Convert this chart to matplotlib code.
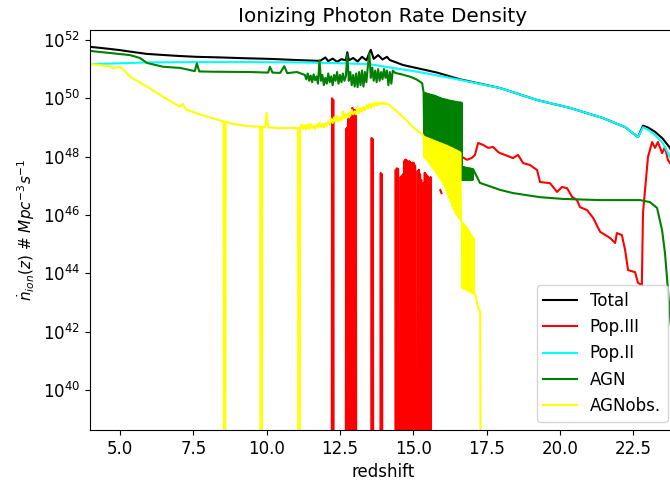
import numpy as np
import matplotlib
matplotlib.use('Agg')
import matplotlib.pyplot as plt
from matplotlib.ticker import NullLocator

nan = np.nan

# values are log10 of the photon rate density
# (30 = far below the axis floor, i.e. the rate drops to ~nothing)

tot_z = [4.0, 4.3, 4.66, 5.0, 5.34, 5.92, 6.53, 7.0, 7.62, 8.41, 9.33, 10.11,
         11.03, 11.82, 12.0, 12.1, 12.25, 12.4, 12.55, 12.7, 12.75, 12.8,
         12.95, 13.1, 13.25, 13.4, 13.5, 13.55, 13.65, 13.8, 13.95, 14.1,
         14.2, 14.65, 15.23, 15.81, 16.59, 17.96, 19.22, 20.34, 21.47, 22.22,
         22.66, 22.83, 23.0, 23.24, 23.5, 23.75, 23.95]
tot_L = [51.76, 51.73, 51.69, 51.65, 51.60, 51.52, 51.48, 51.45, 51.42, 51.40,
         51.37, 51.35, 51.31, 51.28, 51.40, 51.27, 51.36, 51.25, 51.34, 51.30,
         51.58, 51.30, 51.38, 51.26, 51.42, 51.30, 51.55, 51.66, 51.35, 51.48,
         51.33, 51.42, 51.31, 51.14, 51.01, 50.88, 50.65, 50.35, 49.94, 49.67,
         49.32, 49.01, 48.67, 49.06, 49.0, 48.85, 48.62, 48.3, 47.9]

pop2_z = [4.0, 5.0, 6.0, 7.5, 9.4, 11.0, 12.2, 13.5, 14.3, 15.2, 16.6, 17.96,
          19.22, 20.34, 21.47, 22.22, 22.66, 22.83, 23.0, 23.24, 23.5, 23.75,
          23.95]
pop2_L = [51.17, 51.20, 51.23, 51.24, 51.24, 51.23, 51.21, 51.17, 51.04, 50.90,
          50.63, 50.35, 49.94, 49.67, 49.32, 49.01, 48.67, 49.01, 48.92, 48.74,
          48.47, 48.0, 47.5]

pop3_z = [12.21, 12.23, 12.25, 12.27, 12.29,
          12.69, 12.71, 12.73, 12.75, 12.77, 12.79, 12.81, 12.86, 12.88, 12.90,
          12.92, 12.94, 12.96, 12.98, 13.00, 13.02, 13.04, 13.06,
          13.56, 13.58, 13.60, 13.62, 13.64,
          13.87, 13.89, 13.91, 13.93, 13.95,
          14.38, 14.40, 14.42, 14.44, 14.46, 14.48, 14.50, 14.55, 14.57, 14.59,
          14.61, 14.63, 14.65, 14.67, 14.69, 14.71, 14.73, 14.75, 14.77, 14.79,
          14.84, 14.86, 14.88, 14.90, 14.92, 14.94, 14.96, 14.98, 15.00, 15.02,
          15.04, 15.06, 15.08, 15.13, 15.15, 15.17, 15.19, 15.21, 15.23, 15.25,
          15.27, 15.29, 15.31, 15.33, 15.35, 15.37, 15.39, 15.41, 15.43, 15.45,
          15.47, 15.49, 15.51, 15.53, 15.55, 15.57, 15.59, 15.61,
          15.7,
          15.92, 15.96,
          16.2,
          16.66, 16.83, 17.0, 17.1, 17.21, 17.38, 17.55, 17.72, 17.89, 17.96,
          18.4, 18.57, 18.74, 18.98, 19.22, 19.32, 19.66, 19.9, 20.07, 20.24,
          20.41, 20.58, 20.68, 20.92, 21.13, 21.37, 21.71, 21.88, 21.94, 22.11,
          22.22, 22.32, 22.56, 22.66, 22.79, 22.83, 22.93, 23.0, 23.14, 23.24,
          23.34, 23.48, 23.58, 23.68, 23.95]
pop3_L = [30, 50.0, 30, 49.95, 30,
          30, 48.95, 30, 49.0, 30, 49.3, 30, 30, 49.5, 30,
          49.67, 30, 49.6, 30, 49.6, 30, 49.5, 30,
          30, 48.64, 30, 48.6, 30,
          30, 47.44, 30, 47.4, 30,
          30, 47.55, 30, 47.6, 30, 47.58, 30, 30, 47.3, 30,
          47.35, 30, 47.4, 30, 47.85, 30, 47.9, 30, 47.88, 30,
          30, 47.85, 30, 47.8, 30, 47.75, 30, 47.8, 30, 47.78,
          30, 47.7, 30, 30, 47.5, 30, 47.55, 30, 47.4, 30,
          47.2, 30, 46.9, 30, 47.1, 30, 47.45, 30, 47.4, 30,
          47.35, 30, 47.3, 30, 47.25, 30, 47.3, 30,
          nan,
          46.85, 46.75,
          nan,
          47.99, 47.89, 47.96, 48.06, 48.47, 48.4, 48.3, 48.33, 48.16, 48.12,
          47.95, 48.06, 47.78, 47.71, 47.54, 47.13, 47.09, 46.79, 46.96, 46.92,
          46.62, 46.51, 46.27, 46.17, 45.9, 45.42, 45.21, 45.04, 45.38, 45.31,
          44.8, 44.11, 44.04, 43.67, 43.6, 46.07, 47.2, 47.99, 48.5, 48.3,
          48.5, 48.12, 48.33, 47.88, 47.5]

agn_z = [4.0, 4.66, 5.34, 5.68, 5.92, 6.47, 7.05, 7.55, 7.62, 7.7, 8.17, 9.43,
         10.05, 10.11, 10.2, 10.46, 10.6, 10.7, 11.03,
         11.30, 11.35, 11.40, 11.45, 11.50, 11.55, 11.60, 11.65, 11.70, 11.75,
         11.80, 11.85, 11.90, 11.95, 12.00, 12.05, 12.10, 12.15, 12.20, 12.25,
         12.30, 12.35, 12.40, 12.45, 12.50, 12.55, 12.60, 12.65, 12.70, 12.75,
         12.80, 12.85, 12.90, 12.95, 13.00, 13.05, 13.10, 13.15, 13.20, 13.25,
         13.30, 13.35, 13.40, 13.45, 13.50, 13.55, 13.60, 13.65, 13.70, 13.75,
         13.80, 13.85, 13.90, 13.95, 14.00, 14.05, 14.10, 14.15, 14.20, 14.25,
         14.30, 14.38, 14.6, 14.89, 15.1, 15.3,
         15.350, 15.375, 15.400, 15.425, 15.450, 15.475, 15.500, 15.525,
         15.550, 15.575, 15.600, 15.625, 15.650, 15.675, 15.700, 15.725,
         15.750, 15.775, 15.800, 15.825, 15.850, 15.875, 15.900, 15.925,
         15.950, 15.975, 16.000, 16.025, 16.050, 16.075, 16.100, 16.125,
         16.150, 16.175, 16.200, 16.225, 16.250, 16.275, 16.300, 16.325,
         16.350, 16.375, 16.400, 16.425, 16.450, 16.475, 16.500, 16.525,
         16.550, 16.575, 16.600, 16.625, 16.645,
         16.66, 16.68, 16.70, 16.72, 16.74, 16.76, 16.78, 16.80, 16.82, 16.84,
         16.86, 16.88, 16.90, 16.92, 16.94, 16.96, 16.98, 17.00, 17.02, 17.04,
         17.27, 17.96, 18.4, 19.32, 20.1, 21.37, 22.73, 23.07, 23.31, 23.48,
         23.58, 23.68, 23.82, 23.95]
agn_L = [51.62, 51.55, 51.48, 51.38, 51.21, 51.08, 51.04, 50.93, 51.2, 50.92,
         50.91, 50.90, 50.88, 51.08, 50.88, 50.87, 51.1, 50.86, 50.90,
         50.80, 50.65, 50.85, 50.60, 50.78, 50.55, 50.82, 50.62, 50.75, 50.50,
         51.30, 50.60, 50.80, 50.45, 50.70, 50.50, 50.85, 50.55, 50.75, 50.45,
         50.80, 50.60, 50.90, 50.50, 50.80, 50.55, 50.85, 50.60, 50.75, 51.50,
         50.60, 50.90, 50.45, 50.80, 50.40, 50.85, 50.38, 50.90, 50.45, 50.95,
         50.40, 50.90, 50.55, 51.10, 51.55, 50.70, 51.05, 50.60, 50.95, 50.55,
         51.00, 50.60, 50.90, 50.65, 51.00, 50.70, 50.95, 50.45, 50.90, 50.50,
         50.95, 50.87, 50.82, 50.74, 50.65, 50.52,
         50.20, 48.40, 50.18, 48.38, 50.17, 48.36, 50.15, 48.34,
         50.14, 48.32, 50.12, 48.30, 50.11, 48.28, 50.10, 48.26,
         50.08, 48.24, 50.06, 48.22, 50.04, 48.20, 50.02, 48.18,
         50.00, 48.16, 49.98, 48.14, 49.97, 48.12, 49.96, 48.10,
         49.95, 48.08, 49.93, 48.06, 49.92, 48.04, 49.91, 48.02,
         49.90, 48.00, 49.89, 47.99, 49.88, 47.98, 49.87, 47.97,
         49.86, 47.96, 49.86, 47.95, 49.85,
         47.2, 47.64, 47.2, 47.64, 47.2, 47.63, 47.2, 47.62, 47.2, 47.61,
         47.2, 47.6, 47.2, 47.6, 47.2, 47.59, 47.2, 47.58, 47.2, 47.57,
         47.1, 46.86, 46.75, 46.61, 46.55, 46.51, 46.51, 46.44, 46.24, 45.48,
         44.69, 43.43, 41.7, 39.0]

agnobs_z = [4.0, 4.3, 4.66, 4.76, 5.0, 5.15, 5.34, 5.92, 6.47, 7.05, 7.15, 7.25,
            7.62, 8.17, 8.53, 8.55, 8.58, 8.60, 8.75, 9.33, 9.78, 9.80, 9.83,
            9.85, 9.95, 10.0, 10.05, 10.46, 11.07, 11.09, 11.12, 11.14,
            11.20, 11.25, 11.30, 11.35, 11.40, 11.45, 11.50, 11.55, 11.60,
            11.65, 11.70, 11.75, 11.80, 11.85, 11.90, 11.95, 12.00, 12.05,
            12.10, 12.15, 12.20, 12.25, 12.30, 12.35, 12.40, 12.45, 12.50,
            12.55, 12.60, 12.65, 12.70, 12.75, 12.80, 12.85, 12.90, 12.95,
            13.00, 13.05, 13.10, 13.15, 13.20, 13.25, 13.30, 13.35, 13.40,
            13.45, 13.50, 13.55, 13.60, 13.65, 13.70, 13.75, 13.80, 13.85,
            13.90, 13.95, 14.00, 14.05, 14.10, 14.20, 14.38, 14.65, 14.99, 15.33,
            15.350, 15.375, 15.400, 15.425, 15.450, 15.475, 15.500, 15.525,
            15.550, 15.575, 15.600, 15.625, 15.650, 15.675, 15.700, 15.725,
            15.750, 15.775, 15.800, 15.825, 15.850, 15.875, 15.900, 15.925,
            15.950, 15.975, 16.000, 16.025, 16.050, 16.075, 16.100, 16.125,
            16.150, 16.175, 16.200, 16.225, 16.250, 16.275, 16.300, 16.325,
            16.350, 16.375, 16.400, 16.425, 16.450, 16.475, 16.500, 16.525,
            16.550, 16.575, 16.600, 16.625,
            16.65, 16.67, 16.69, 16.71, 16.73, 16.75, 16.77, 16.79, 16.81,
            16.83, 16.85, 16.87, 16.89, 16.91, 16.93, 16.95, 16.97, 16.99,
            17.01, 17.03, 17.05, 17.07, 17.1, 17.15, 17.2, 17.28, 17.31]
agnobs_L = [51.17, 51.14, 51.09, 51.03, 51.08, 50.95, 50.74, 50.40, 50.05,
            49.71, 49.8, 49.62, 49.48, 49.31, 49.21, 30, 30, 49.2, 49.14,
            49.05, 49.02, 30, 30, 49.03, 49.02, 49.5, 49.0, 48.98, 48.98, 30,
            30, 49.0,
            49.10, 48.95, 49.08, 48.93, 49.10, 48.95, 49.12, 48.97, 49.05,
            48.95, 49.10, 49.00, 49.15, 49.02, 49.12, 49.00, 49.15, 49.05,
            49.20, 49.10, 49.30, 49.15, 49.35, 49.20, 49.40, 49.20, 49.35,
            49.25, 49.55, 49.30, 49.45, 49.35, 49.50, 49.40, 49.60, 49.45,
            49.55, 49.45, 49.70, 49.50, 49.65, 49.55, 49.70, 49.60, 49.75,
            49.65, 49.80, 49.68, 49.82, 49.72, 49.85, 49.75, 49.85, 49.78,
            49.85, 49.80, 49.85, 49.80, 49.82, 49.75, 49.6, 49.36, 49.01, 48.74,
            48.70, 47.97, 48.67, 47.92, 48.65, 47.87, 48.63, 47.80,
            48.61, 47.73, 48.59, 47.66, 48.57, 47.60, 48.55, 47.53,
            48.53, 47.46, 48.51, 47.38, 48.49, 47.30, 48.47, 47.22,
            48.45, 47.15, 48.43, 47.05, 48.41, 46.95, 48.39, 46.83,
            48.37, 46.70, 48.35, 46.57, 48.32, 46.45, 48.30, 46.33,
            48.28, 46.20, 48.25, 46.10, 48.23, 46.00, 48.20, 45.93,
            48.17, 45.87, 48.14, 45.82,
            45.76, 43.50, 45.72, 43.48, 45.68, 43.46, 45.63, 43.44, 45.58,
            43.42, 45.52, 43.40, 45.46, 43.38, 45.40, 43.36, 45.33, 43.34,
            45.26, 43.32, 45.20, 43.30, 43.3, 43.1, 42.85, 42.68, 30]

plt.rcParams.update({'font.size': 12})
fig = plt.figure(figsize=(6.7, 4.8), dpi=100)
ax = fig.add_axes([90 / 670, 50 / 480, 586 / 670, 400 / 480])

ax.plot(tot_z, 10 ** np.array(tot_L), color='black', label='Total')
ax.plot(pop3_z, 10 ** np.array(pop3_L), color='red', label='Pop.III')
ax.plot(pop2_z, 10 ** np.array(pop2_L), color='cyan', label='Pop.II')
ax.plot(agn_z, 10 ** np.array(agn_L), color='green', label='AGN')
ax.plot(agnobs_z, 10 ** np.array(agnobs_L), color='yellow', label='AGNobs.')

ax.set_yscale('log')
ax.set_xlim(3.977, 23.955)
ax.set_ylim(10 ** 38.63, 10 ** 52.34)
ax.set_yticks([1e40, 1e42, 1e44, 1e46, 1e48, 1e50, 1e52])
ax.yaxis.set_minor_locator(NullLocator())

ax.set_title('Ionizing Photon Rate Density')
ax.set_xlabel('redshift')
ax.set_ylabel(r'$\dot{n}_{ion}(z)$ # $Mpc^{-3}s^{-1}$', fontsize=11)
ax.legend(loc='lower right')

fig.savefig('out.png', dpi=100)
